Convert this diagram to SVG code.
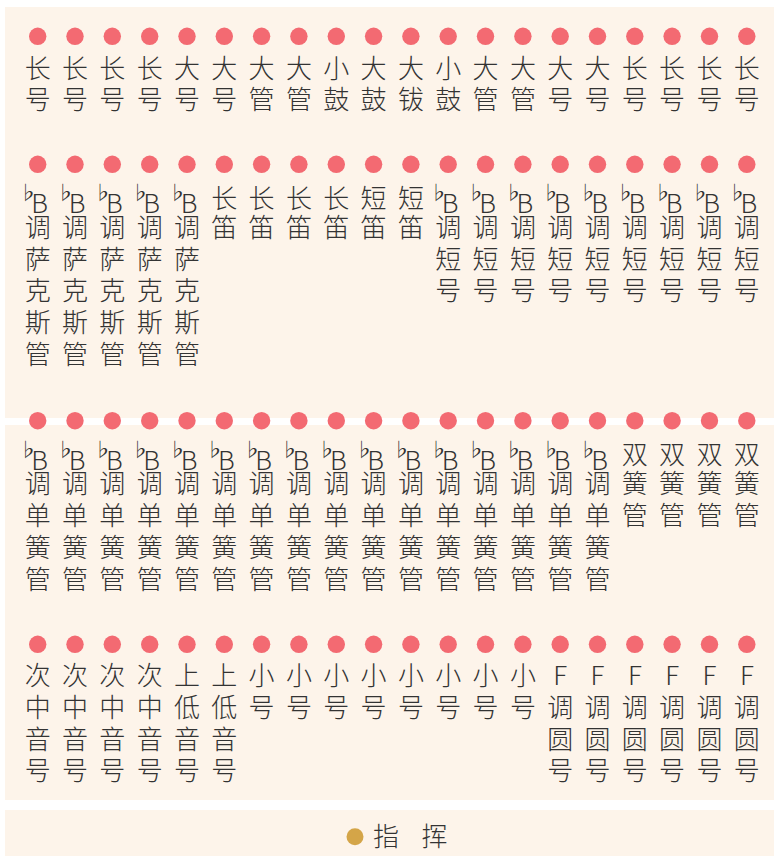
<svg xmlns="http://www.w3.org/2000/svg" width="774" height="858" viewBox="0 0 774 858">
<style>
.p{fill:#FDF4EA}
.d{fill:#F36A72}
.t{font-family:"Noto Sans CJK SC","Noto Sans",sans-serif;font-size:26px;font-weight:300;fill:#333;text-anchor:middle}
.f{font-family:"Noto Sans CJK SC","DejaVu Sans",sans-serif;font-size:19px;font-weight:400;fill:#333;text-anchor:middle}
</style>
<rect width="774" height="858" fill="#ffffff"/>
<g id="panels">
<rect class="p" x="5" y="7" width="769" height="411"/>
<rect class="p" x="5" y="425" width="769" height="375"/>
<rect class="p" x="5" y="810" width="769" height="46"/>
</g>
<g id="connectors"/>
<g id="row1">
<g id="a1"><circle class="d" cx="37.7" cy="36.3" r="8.7"/><text class="t"><tspan x="37.7" y="77.5">长</tspan><tspan x="37.7" y="109.2">号</tspan></text></g>
<g id="a2"><circle class="d" cx="75" cy="36.3" r="8.7"/><text class="t"><tspan x="75" y="77.5">长</tspan><tspan x="75" y="109.2">号</tspan></text></g>
<g id="a3"><circle class="d" cx="112.3" cy="36.3" r="8.7"/><text class="t"><tspan x="112.3" y="77.5">长</tspan><tspan x="112.3" y="109.2">号</tspan></text></g>
<g id="a4"><circle class="d" cx="149.7" cy="36.3" r="8.7"/><text class="t"><tspan x="149.7" y="77.5">长</tspan><tspan x="149.7" y="109.2">号</tspan></text></g>
<g id="a5"><circle class="d" cx="187" cy="36.3" r="8.7"/><text class="t"><tspan x="187" y="77.5">大</tspan><tspan x="187" y="109.2">号</tspan></text></g>
<g id="a6"><circle class="d" cx="224.3" cy="36.3" r="8.7"/><text class="t"><tspan x="224.3" y="77.5">大</tspan><tspan x="224.3" y="109.2">号</tspan></text></g>
<g id="a7"><circle class="d" cx="261.6" cy="36.3" r="8.7"/><text class="t"><tspan x="261.6" y="77.5">大</tspan><tspan x="261.6" y="109.2">管</tspan></text></g>
<g id="a8"><circle class="d" cx="298.9" cy="36.3" r="8.7"/><text class="t"><tspan x="298.9" y="77.5">大</tspan><tspan x="298.9" y="109.2">管</tspan></text></g>
<g id="a9"><circle class="d" cx="336.3" cy="36.3" r="8.7"/><text class="t"><tspan x="336.3" y="77.5">小</tspan><tspan x="336.3" y="109.2">鼓</tspan></text></g>
<g id="a10"><circle class="d" cx="373.6" cy="36.3" r="8.7"/><text class="t"><tspan x="373.6" y="77.5">大</tspan><tspan x="373.6" y="109.2">鼓</tspan></text></g>
<g id="a11"><circle class="d" cx="410.9" cy="36.3" r="8.7"/><text class="t"><tspan x="410.9" y="77.5">大</tspan><tspan x="410.9" y="109.2">钹</tspan></text></g>
<g id="a12"><circle class="d" cx="448.2" cy="36.3" r="8.7"/><text class="t"><tspan x="448.2" y="77.5">小</tspan><tspan x="448.2" y="109.2">鼓</tspan></text></g>
<g id="a13"><circle class="d" cx="485.5" cy="36.3" r="8.7"/><text class="t"><tspan x="485.5" y="77.5">大</tspan><tspan x="485.5" y="109.2">管</tspan></text></g>
<g id="a14"><circle class="d" cx="522.9" cy="36.3" r="8.7"/><text class="t"><tspan x="522.9" y="77.5">大</tspan><tspan x="522.9" y="109.2">管</tspan></text></g>
<g id="a15"><circle class="d" cx="560.2" cy="36.3" r="8.7"/><text class="t"><tspan x="560.2" y="77.5">大</tspan><tspan x="560.2" y="109.2">号</tspan></text></g>
<g id="a16"><circle class="d" cx="597.5" cy="36.3" r="8.7"/><text class="t"><tspan x="597.5" y="77.5">大</tspan><tspan x="597.5" y="109.2">号</tspan></text></g>
<g id="a17"><circle class="d" cx="634.8" cy="36.3" r="8.7"/><text class="t"><tspan x="634.8" y="77.5">长</tspan><tspan x="634.8" y="109.2">号</tspan></text></g>
<g id="a18"><circle class="d" cx="672.1" cy="36.3" r="8.7"/><text class="t"><tspan x="672.1" y="77.5">长</tspan><tspan x="672.1" y="109.2">号</tspan></text></g>
<g id="a19"><circle class="d" cx="709.5" cy="36.3" r="8.7"/><text class="t"><tspan x="709.5" y="77.5">长</tspan><tspan x="709.5" y="109.2">号</tspan></text></g>
<g id="a20"><circle class="d" cx="746.8" cy="36.3" r="8.7"/><text class="t"><tspan x="746.8" y="77.5">长</tspan><tspan x="746.8" y="109.2">号</tspan></text></g>
</g>
<g id="row2">
<g id="b1"><circle class="d" cx="37.7" cy="164.3" r="8.7"/><text class="f" x="28" y="200">♭</text><text class="t"><tspan x="39.7" y="212.5">B</tspan><tspan x="37.7" y="237">调</tspan><tspan x="37.7" y="268.7">萨</tspan><tspan x="37.7" y="300.4">克</tspan><tspan x="37.7" y="332.1">斯</tspan><tspan x="37.7" y="363.8">管</tspan></text></g>
<g id="b2"><circle class="d" cx="75" cy="164.3" r="8.7"/><text class="f" x="65.3" y="200">♭</text><text class="t"><tspan x="77" y="212.5">B</tspan><tspan x="75" y="237">调</tspan><tspan x="75" y="268.7">萨</tspan><tspan x="75" y="300.4">克</tspan><tspan x="75" y="332.1">斯</tspan><tspan x="75" y="363.8">管</tspan></text></g>
<g id="b3"><circle class="d" cx="112.3" cy="164.3" r="8.7"/><text class="f" x="102.6" y="200">♭</text><text class="t"><tspan x="114.3" y="212.5">B</tspan><tspan x="112.3" y="237">调</tspan><tspan x="112.3" y="268.7">萨</tspan><tspan x="112.3" y="300.4">克</tspan><tspan x="112.3" y="332.1">斯</tspan><tspan x="112.3" y="363.8">管</tspan></text></g>
<g id="b4"><circle class="d" cx="149.7" cy="164.3" r="8.7"/><text class="f" x="140" y="200">♭</text><text class="t"><tspan x="151.7" y="212.5">B</tspan><tspan x="149.7" y="237">调</tspan><tspan x="149.7" y="268.7">萨</tspan><tspan x="149.7" y="300.4">克</tspan><tspan x="149.7" y="332.1">斯</tspan><tspan x="149.7" y="363.8">管</tspan></text></g>
<g id="b5"><circle class="d" cx="187" cy="164.3" r="8.7"/><text class="f" x="177.3" y="200">♭</text><text class="t"><tspan x="189" y="212.5">B</tspan><tspan x="187" y="237">调</tspan><tspan x="187" y="268.7">萨</tspan><tspan x="187" y="300.4">克</tspan><tspan x="187" y="332.1">斯</tspan><tspan x="187" y="363.8">管</tspan></text></g>
<g id="b6"><circle class="d" cx="224.3" cy="164.3" r="8.7"/><text class="t"><tspan x="224.3" y="207.5">长</tspan><tspan x="224.3" y="237">笛</tspan></text></g>
<g id="b7"><circle class="d" cx="261.6" cy="164.3" r="8.7"/><text class="t"><tspan x="261.6" y="207.5">长</tspan><tspan x="261.6" y="237">笛</tspan></text></g>
<g id="b8"><circle class="d" cx="298.9" cy="164.3" r="8.7"/><text class="t"><tspan x="298.9" y="207.5">长</tspan><tspan x="298.9" y="237">笛</tspan></text></g>
<g id="b9"><circle class="d" cx="336.3" cy="164.3" r="8.7"/><text class="t"><tspan x="336.3" y="207.5">长</tspan><tspan x="336.3" y="237">笛</tspan></text></g>
<g id="b10"><circle class="d" cx="373.6" cy="164.3" r="8.7"/><text class="t"><tspan x="373.6" y="207.5">短</tspan><tspan x="373.6" y="237">笛</tspan></text></g>
<g id="b11"><circle class="d" cx="410.9" cy="164.3" r="8.7"/><text class="t"><tspan x="410.9" y="207.5">短</tspan><tspan x="410.9" y="237">笛</tspan></text></g>
<g id="b12"><circle class="d" cx="448.2" cy="164.3" r="8.7"/><text class="f" x="438.5" y="200">♭</text><text class="t"><tspan x="450.2" y="212.5">B</tspan><tspan x="448.2" y="237">调</tspan><tspan x="448.2" y="268.7">短</tspan><tspan x="448.2" y="300.4">号</tspan></text></g>
<g id="b13"><circle class="d" cx="485.5" cy="164.3" r="8.7"/><text class="f" x="475.8" y="200">♭</text><text class="t"><tspan x="487.5" y="212.5">B</tspan><tspan x="485.5" y="237">调</tspan><tspan x="485.5" y="268.7">短</tspan><tspan x="485.5" y="300.4">号</tspan></text></g>
<g id="b14"><circle class="d" cx="522.9" cy="164.3" r="8.7"/><text class="f" x="513.2" y="200">♭</text><text class="t"><tspan x="524.9" y="212.5">B</tspan><tspan x="522.9" y="237">调</tspan><tspan x="522.9" y="268.7">短</tspan><tspan x="522.9" y="300.4">号</tspan></text></g>
<g id="b15"><circle class="d" cx="560.2" cy="164.3" r="8.7"/><text class="f" x="550.5" y="200">♭</text><text class="t"><tspan x="562.2" y="212.5">B</tspan><tspan x="560.2" y="237">调</tspan><tspan x="560.2" y="268.7">短</tspan><tspan x="560.2" y="300.4">号</tspan></text></g>
<g id="b16"><circle class="d" cx="597.5" cy="164.3" r="8.7"/><text class="f" x="587.8" y="200">♭</text><text class="t"><tspan x="599.5" y="212.5">B</tspan><tspan x="597.5" y="237">调</tspan><tspan x="597.5" y="268.7">短</tspan><tspan x="597.5" y="300.4">号</tspan></text></g>
<g id="b17"><circle class="d" cx="634.8" cy="164.3" r="8.7"/><text class="f" x="625.1" y="200">♭</text><text class="t"><tspan x="636.8" y="212.5">B</tspan><tspan x="634.8" y="237">调</tspan><tspan x="634.8" y="268.7">短</tspan><tspan x="634.8" y="300.4">号</tspan></text></g>
<g id="b18"><circle class="d" cx="672.1" cy="164.3" r="8.7"/><text class="f" x="662.4" y="200">♭</text><text class="t"><tspan x="674.1" y="212.5">B</tspan><tspan x="672.1" y="237">调</tspan><tspan x="672.1" y="268.7">短</tspan><tspan x="672.1" y="300.4">号</tspan></text></g>
<g id="b19"><circle class="d" cx="709.5" cy="164.3" r="8.7"/><text class="f" x="699.8" y="200">♭</text><text class="t"><tspan x="711.5" y="212.5">B</tspan><tspan x="709.5" y="237">调</tspan><tspan x="709.5" y="268.7">短</tspan><tspan x="709.5" y="300.4">号</tspan></text></g>
<g id="b20"><circle class="d" cx="746.8" cy="164.3" r="8.7"/><text class="f" x="737.1" y="200">♭</text><text class="t"><tspan x="748.8" y="212.5">B</tspan><tspan x="746.8" y="237">调</tspan><tspan x="746.8" y="268.7">短</tspan><tspan x="746.8" y="300.4">号</tspan></text></g>
</g>
<g id="row3">
<g id="c1"><circle class="d" cx="37.7" cy="420.7" r="8.7"/><text class="f" x="28" y="457">♭</text><text class="t"><tspan x="39.7" y="470.3">B</tspan><tspan x="37.7" y="493.4">调</tspan><tspan x="37.7" y="525.1">单</tspan><tspan x="37.7" y="556.8">簧</tspan><tspan x="37.7" y="588.5">管</tspan></text></g>
<g id="c2"><circle class="d" cx="75" cy="420.7" r="8.7"/><text class="f" x="65.3" y="457">♭</text><text class="t"><tspan x="77" y="470.3">B</tspan><tspan x="75" y="493.4">调</tspan><tspan x="75" y="525.1">单</tspan><tspan x="75" y="556.8">簧</tspan><tspan x="75" y="588.5">管</tspan></text></g>
<g id="c3"><circle class="d" cx="112.3" cy="420.7" r="8.7"/><text class="f" x="102.6" y="457">♭</text><text class="t"><tspan x="114.3" y="470.3">B</tspan><tspan x="112.3" y="493.4">调</tspan><tspan x="112.3" y="525.1">单</tspan><tspan x="112.3" y="556.8">簧</tspan><tspan x="112.3" y="588.5">管</tspan></text></g>
<g id="c4"><circle class="d" cx="149.7" cy="420.7" r="8.7"/><text class="f" x="140" y="457">♭</text><text class="t"><tspan x="151.7" y="470.3">B</tspan><tspan x="149.7" y="493.4">调</tspan><tspan x="149.7" y="525.1">单</tspan><tspan x="149.7" y="556.8">簧</tspan><tspan x="149.7" y="588.5">管</tspan></text></g>
<g id="c5"><circle class="d" cx="187" cy="420.7" r="8.7"/><text class="f" x="177.3" y="457">♭</text><text class="t"><tspan x="189" y="470.3">B</tspan><tspan x="187" y="493.4">调</tspan><tspan x="187" y="525.1">单</tspan><tspan x="187" y="556.8">簧</tspan><tspan x="187" y="588.5">管</tspan></text></g>
<g id="c6"><circle class="d" cx="224.3" cy="420.7" r="8.7"/><text class="f" x="214.6" y="457">♭</text><text class="t"><tspan x="226.3" y="470.3">B</tspan><tspan x="224.3" y="493.4">调</tspan><tspan x="224.3" y="525.1">单</tspan><tspan x="224.3" y="556.8">簧</tspan><tspan x="224.3" y="588.5">管</tspan></text></g>
<g id="c7"><circle class="d" cx="261.6" cy="420.7" r="8.7"/><text class="f" x="251.9" y="457">♭</text><text class="t"><tspan x="263.6" y="470.3">B</tspan><tspan x="261.6" y="493.4">调</tspan><tspan x="261.6" y="525.1">单</tspan><tspan x="261.6" y="556.8">簧</tspan><tspan x="261.6" y="588.5">管</tspan></text></g>
<g id="c8"><circle class="d" cx="298.9" cy="420.7" r="8.7"/><text class="f" x="289.2" y="457">♭</text><text class="t"><tspan x="300.9" y="470.3">B</tspan><tspan x="298.9" y="493.4">调</tspan><tspan x="298.9" y="525.1">单</tspan><tspan x="298.9" y="556.8">簧</tspan><tspan x="298.9" y="588.5">管</tspan></text></g>
<g id="c9"><circle class="d" cx="336.3" cy="420.7" r="8.7"/><text class="f" x="326.6" y="457">♭</text><text class="t"><tspan x="338.3" y="470.3">B</tspan><tspan x="336.3" y="493.4">调</tspan><tspan x="336.3" y="525.1">单</tspan><tspan x="336.3" y="556.8">簧</tspan><tspan x="336.3" y="588.5">管</tspan></text></g>
<g id="c10"><circle class="d" cx="373.6" cy="420.7" r="8.7"/><text class="f" x="363.9" y="457">♭</text><text class="t"><tspan x="375.6" y="470.3">B</tspan><tspan x="373.6" y="493.4">调</tspan><tspan x="373.6" y="525.1">单</tspan><tspan x="373.6" y="556.8">簧</tspan><tspan x="373.6" y="588.5">管</tspan></text></g>
<g id="c11"><circle class="d" cx="410.9" cy="420.7" r="8.7"/><text class="f" x="401.2" y="457">♭</text><text class="t"><tspan x="412.9" y="470.3">B</tspan><tspan x="410.9" y="493.4">调</tspan><tspan x="410.9" y="525.1">单</tspan><tspan x="410.9" y="556.8">簧</tspan><tspan x="410.9" y="588.5">管</tspan></text></g>
<g id="c12"><circle class="d" cx="448.2" cy="420.7" r="8.7"/><text class="f" x="438.5" y="457">♭</text><text class="t"><tspan x="450.2" y="470.3">B</tspan><tspan x="448.2" y="493.4">调</tspan><tspan x="448.2" y="525.1">单</tspan><tspan x="448.2" y="556.8">簧</tspan><tspan x="448.2" y="588.5">管</tspan></text></g>
<g id="c13"><circle class="d" cx="485.5" cy="420.7" r="8.7"/><text class="f" x="475.8" y="457">♭</text><text class="t"><tspan x="487.5" y="470.3">B</tspan><tspan x="485.5" y="493.4">调</tspan><tspan x="485.5" y="525.1">单</tspan><tspan x="485.5" y="556.8">簧</tspan><tspan x="485.5" y="588.5">管</tspan></text></g>
<g id="c14"><circle class="d" cx="522.9" cy="420.7" r="8.7"/><text class="f" x="513.2" y="457">♭</text><text class="t"><tspan x="524.9" y="470.3">B</tspan><tspan x="522.9" y="493.4">调</tspan><tspan x="522.9" y="525.1">单</tspan><tspan x="522.9" y="556.8">簧</tspan><tspan x="522.9" y="588.5">管</tspan></text></g>
<g id="c15"><circle class="d" cx="560.2" cy="420.7" r="8.7"/><text class="f" x="550.5" y="457">♭</text><text class="t"><tspan x="562.2" y="470.3">B</tspan><tspan x="560.2" y="493.4">调</tspan><tspan x="560.2" y="525.1">单</tspan><tspan x="560.2" y="556.8">簧</tspan><tspan x="560.2" y="588.5">管</tspan></text></g>
<g id="c16"><circle class="d" cx="597.5" cy="420.7" r="8.7"/><text class="f" x="587.8" y="457">♭</text><text class="t"><tspan x="599.5" y="470.3">B</tspan><tspan x="597.5" y="493.4">调</tspan><tspan x="597.5" y="525.1">单</tspan><tspan x="597.5" y="556.8">簧</tspan><tspan x="597.5" y="588.5">管</tspan></text></g>
<g id="c17"><circle class="d" cx="634.8" cy="420.7" r="8.7"/><text class="t"><tspan x="634.8" y="463.9">双</tspan><tspan x="634.8" y="493.4">簧</tspan><tspan x="634.8" y="525.1">管</tspan></text></g>
<g id="c18"><circle class="d" cx="672.1" cy="420.7" r="8.7"/><text class="t"><tspan x="672.1" y="463.9">双</tspan><tspan x="672.1" y="493.4">簧</tspan><tspan x="672.1" y="525.1">管</tspan></text></g>
<g id="c19"><circle class="d" cx="709.5" cy="420.7" r="8.7"/><text class="t"><tspan x="709.5" y="463.9">双</tspan><tspan x="709.5" y="493.4">簧</tspan><tspan x="709.5" y="525.1">管</tspan></text></g>
<g id="c20"><circle class="d" cx="746.8" cy="420.7" r="8.7"/><text class="t"><tspan x="746.8" y="463.9">双</tspan><tspan x="746.8" y="493.4">簧</tspan><tspan x="746.8" y="525.1">管</tspan></text></g>
</g>
<g id="row4">
<g id="d1"><circle class="d" cx="37.7" cy="644.3" r="8.7"/><text class="t"><tspan x="37.7" y="685.3">次</tspan><tspan x="37.7" y="717">中</tspan><tspan x="37.7" y="748.7">音</tspan><tspan x="37.7" y="780.4">号</tspan></text></g>
<g id="d2"><circle class="d" cx="75" cy="644.3" r="8.7"/><text class="t"><tspan x="75" y="685.3">次</tspan><tspan x="75" y="717">中</tspan><tspan x="75" y="748.7">音</tspan><tspan x="75" y="780.4">号</tspan></text></g>
<g id="d3"><circle class="d" cx="112.3" cy="644.3" r="8.7"/><text class="t"><tspan x="112.3" y="685.3">次</tspan><tspan x="112.3" y="717">中</tspan><tspan x="112.3" y="748.7">音</tspan><tspan x="112.3" y="780.4">号</tspan></text></g>
<g id="d4"><circle class="d" cx="149.7" cy="644.3" r="8.7"/><text class="t"><tspan x="149.7" y="685.3">次</tspan><tspan x="149.7" y="717">中</tspan><tspan x="149.7" y="748.7">音</tspan><tspan x="149.7" y="780.4">号</tspan></text></g>
<g id="d5"><circle class="d" cx="187" cy="644.3" r="8.7"/><text class="t"><tspan x="187" y="685.3">上</tspan><tspan x="187" y="717">低</tspan><tspan x="187" y="748.7">音</tspan><tspan x="187" y="780.4">号</tspan></text></g>
<g id="d6"><circle class="d" cx="224.3" cy="644.3" r="8.7"/><text class="t"><tspan x="224.3" y="685.3">上</tspan><tspan x="224.3" y="717">低</tspan><tspan x="224.3" y="748.7">音</tspan><tspan x="224.3" y="780.4">号</tspan></text></g>
<g id="d7"><circle class="d" cx="261.6" cy="644.3" r="8.7"/><text class="t"><tspan x="261.6" y="685.3">小</tspan><tspan x="261.6" y="717">号</tspan></text></g>
<g id="d8"><circle class="d" cx="298.9" cy="644.3" r="8.7"/><text class="t"><tspan x="298.9" y="685.3">小</tspan><tspan x="298.9" y="717">号</tspan></text></g>
<g id="d9"><circle class="d" cx="336.3" cy="644.3" r="8.7"/><text class="t"><tspan x="336.3" y="685.3">小</tspan><tspan x="336.3" y="717">号</tspan></text></g>
<g id="d10"><circle class="d" cx="373.6" cy="644.3" r="8.7"/><text class="t"><tspan x="373.6" y="685.3">小</tspan><tspan x="373.6" y="717">号</tspan></text></g>
<g id="d11"><circle class="d" cx="410.9" cy="644.3" r="8.7"/><text class="t"><tspan x="410.9" y="685.3">小</tspan><tspan x="410.9" y="717">号</tspan></text></g>
<g id="d12"><circle class="d" cx="448.2" cy="644.3" r="8.7"/><text class="t"><tspan x="448.2" y="685.3">小</tspan><tspan x="448.2" y="717">号</tspan></text></g>
<g id="d13"><circle class="d" cx="485.5" cy="644.3" r="8.7"/><text class="t"><tspan x="485.5" y="685.3">小</tspan><tspan x="485.5" y="717">号</tspan></text></g>
<g id="d14"><circle class="d" cx="522.9" cy="644.3" r="8.7"/><text class="t"><tspan x="522.9" y="685.3">小</tspan><tspan x="522.9" y="717">号</tspan></text></g>
<g id="d15"><circle class="d" cx="560.2" cy="644.3" r="8.7"/><text class="t"><tspan x="560.2" y="685.3">F</tspan><tspan x="560.2" y="717">调</tspan><tspan x="560.2" y="748.7">圆</tspan><tspan x="560.2" y="780.4">号</tspan></text></g>
<g id="d16"><circle class="d" cx="597.5" cy="644.3" r="8.7"/><text class="t"><tspan x="597.5" y="685.3">F</tspan><tspan x="597.5" y="717">调</tspan><tspan x="597.5" y="748.7">圆</tspan><tspan x="597.5" y="780.4">号</tspan></text></g>
<g id="d17"><circle class="d" cx="634.8" cy="644.3" r="8.7"/><text class="t"><tspan x="634.8" y="685.3">F</tspan><tspan x="634.8" y="717">调</tspan><tspan x="634.8" y="748.7">圆</tspan><tspan x="634.8" y="780.4">号</tspan></text></g>
<g id="d18"><circle class="d" cx="672.1" cy="644.3" r="8.7"/><text class="t"><tspan x="672.1" y="685.3">F</tspan><tspan x="672.1" y="717">调</tspan><tspan x="672.1" y="748.7">圆</tspan><tspan x="672.1" y="780.4">号</tspan></text></g>
<g id="d19"><circle class="d" cx="709.5" cy="644.3" r="8.7"/><text class="t"><tspan x="709.5" y="685.3">F</tspan><tspan x="709.5" y="717">调</tspan><tspan x="709.5" y="748.7">圆</tspan><tspan x="709.5" y="780.4">号</tspan></text></g>
<g id="d20"><circle class="d" cx="746.8" cy="644.3" r="8.7"/><text class="t"><tspan x="746.8" y="685.3">F</tspan><tspan x="746.8" y="717">调</tspan><tspan x="746.8" y="748.7">圆</tspan><tspan x="746.8" y="780.4">号</tspan></text></g>
</g>
<g id="conductor">
<circle cx="355" cy="836.7" r="8.5" fill="#D4A548"/>
<text class="t"><tspan x="386" y="846">指</tspan><tspan x="434.5" y="846">挥</tspan></text>
</g>
</svg>
